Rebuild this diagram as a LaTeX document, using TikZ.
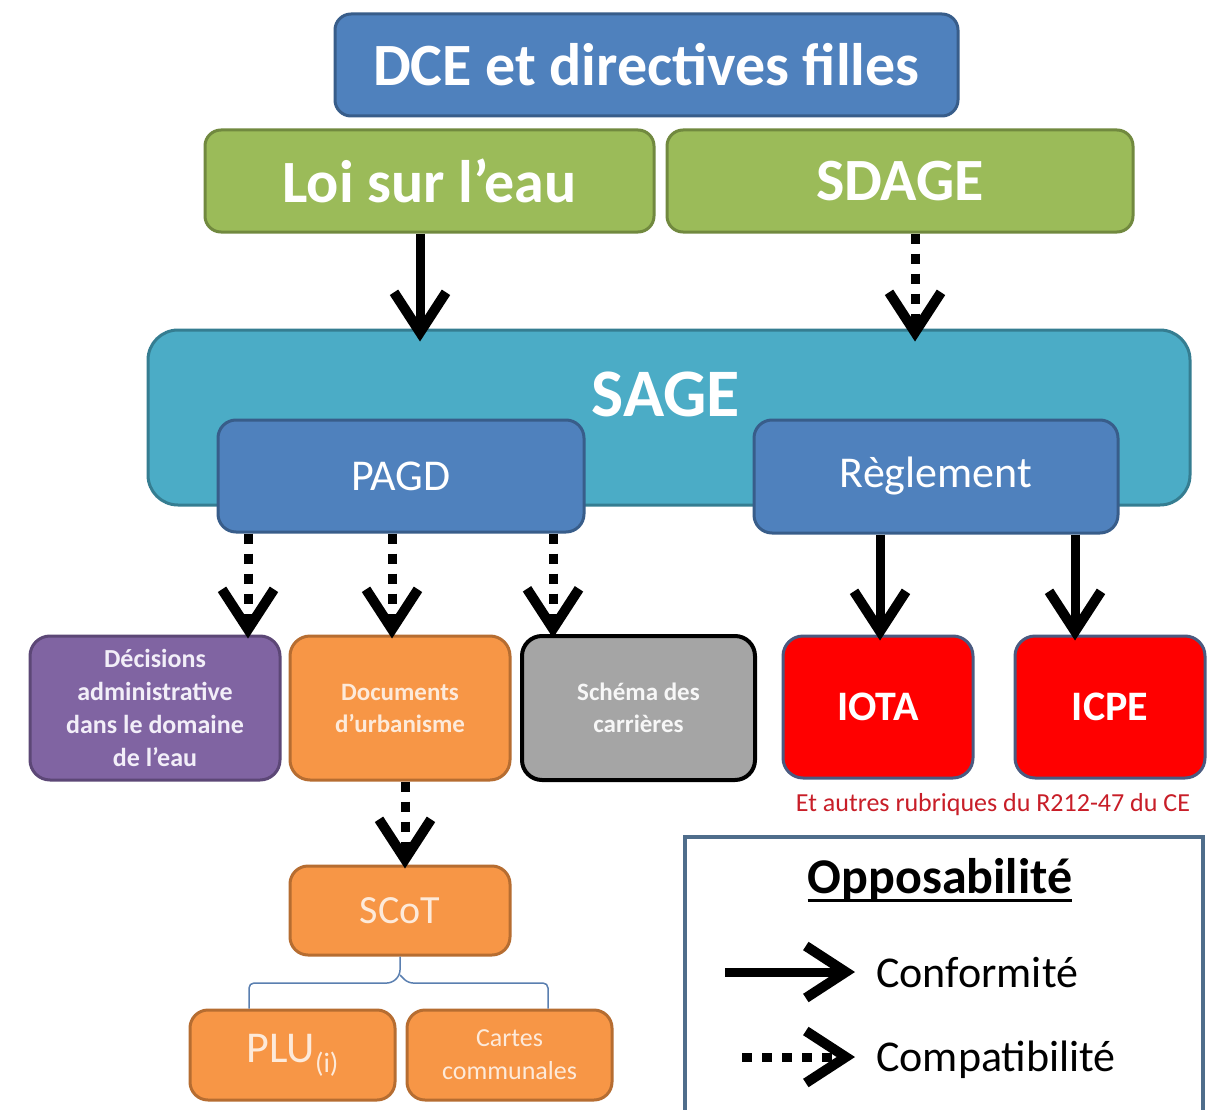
\documentclass[tikz,border=0pt]{standalone}
\usepackage{fontspec}
\setmainfont{Carlito}
\usetikzlibrary{arrows.meta,calc}
\definecolor{dceblue}{HTML}{4F81BD}
\definecolor{dceborder}{HTML}{385D8A}
\definecolor{lgreen}{HTML}{9BBB59}
\definecolor{lgreenb}{HTML}{71893F}
\definecolor{sageteal}{HTML}{4BACC6}
\definecolor{sageb}{HTML}{357D91}
\definecolor{purp}{HTML}{8064A2}
\definecolor{purpb}{HTML}{5C4776}
\definecolor{orng}{HTML}{F79646}
\definecolor{orngb}{HTML}{B66D31}
\definecolor{gry}{HTML}{A5A5A5}
\definecolor{redb}{HTML}{4A5A80}
\definecolor{notered}{RGB}{200,30,40}
\definecolor{paleorng}{HTML}{FDEADA}
\definecolor{palepurp}{HTML}{F2EEF8}
\definecolor{legb}{HTML}{4F6D8B}
\definecolor{brk}{HTML}{5A7FB0}
\newcommand{\fs}[1]{\fontsize{#1}{1.2\dimexpr #1pt\relax}\selectfont}
\newcommand{\myul}[1]{\setbox0=\hbox{#1}\leavevmode\rlap{\copy0}\raisebox{-9pt}{\rule{\wd0}{3pt}}}
\begin{document}
\begin{tikzpicture}[x=1pt,y=-1pt,
  box/.style={draw, line width=3pt, rounded corners=16pt, align=center, inner sep=0pt},
  conf/.style={line width=9pt, -{Straight Barb[length=40pt,width=52pt,line width=10pt]}},
  compat/.style={line width=9pt, dash pattern=on 10pt off 10pt, -{Straight Barb[length=40pt,width=52pt,line width=10pt]}},
  bracket/.style={line width=1.5pt, draw=brk, rounded corners=5pt}
]
\useasboundingbox (0,0) rectangle (1207,1110);
\fill[white] (0,0) rectangle (1207,1110);

% top boxes
\node[box, fill=dceblue, draw=dceborder, minimum width=623pt, minimum height=102pt,
  text=white, font=\bfseries\fs{60}] (dce) at (646.5,65) {DCE et directives filles};
\node[box, fill=lgreen, draw=lgreenb, minimum width=449pt, minimum height=102pt,
  text=white, font=\bfseries\fs{60}] (loi) at (429.5,181) {Loi sur l’eau};
\node[box, fill=lgreen, draw=lgreenb, minimum width=466pt, minimum height=102pt,
  text=white, font=\bfseries\fs{60}] (sdage) at (900,181) {SDAGE};

% SAGE
\node[box, fill=sageteal, draw=sageb, rounded corners=30pt, minimum width=1042pt, minimum height=175pt] (sage) at (669,417.5) {};
\node[text=white, font=\bfseries\fs{68}, inner sep=0pt] (sagetxt) at (666,394) {SAGE};

\node[box, fill=dceblue, draw=dceborder, rounded corners=18pt, minimum width=366pt, minimum height=112pt,
  text=white, font=\fs{44}] (pagd) at (401,476) {PAGD};
\node[box, fill=dceblue, draw=dceborder, rounded corners=18pt, minimum width=364pt, minimum height=113pt,
  text=white, font=\fs{44}] (regl) at (936,476.5) {Règlement};

% second level
\node[box, fill=purp, draw=purpb, rounded corners=20pt, minimum width=250pt, minimum height=144pt,
  text=palepurp, font=\bfseries\fontsize{26}{33}\selectfont] (dec) at (155,708)
  {Décisions\\administrative\\dans le domaine\\de l’eau};
\node[box, fill=orng, draw=orngb, rounded corners=20pt, minimum width=220pt, minimum height=144pt,
  text=paleorng, font=\bfseries\fontsize{25}{32}\selectfont] (doc) at (400,708)
  {Documents\\d’urbanisme};
\node[box, fill=gry, draw=black, line width=4pt, rounded corners=20pt, minimum width=233pt, minimum height=144pt,
  text=white!94!gray, font=\bfseries\fontsize{25}{32}\selectfont] (sch) at (638.5,708)
  {Schéma des\\carrières};
\node[box, fill=red, draw=redb, rounded corners=20pt, minimum width=190pt, minimum height=142pt,
  text=white, font=\bfseries\fs{42}] (iota) at (878,707) {IOTA};
\node[box, fill=red, draw=redb, rounded corners=20pt, minimum width=190pt, minimum height=142pt,
  text=white, font=\bfseries\fs{42}] (icpe) at (1110,707) {ICPE};
\node[text=notered, font=\fs{26}, inner sep=0pt] (note) at (993,805) {Et autres rubriques du R212-47 du CE};

% SCoT level
\node[box, fill=orng, draw=orngb, rounded corners=18pt, minimum width=220pt, minimum height=89pt,
  text=paleorng, font=\fs{40}] (scot) at (400,910.5) {SCoT};
\node[box, fill=orng, draw=orngb, rounded corners=18pt, minimum width=205pt, minimum height=90pt,
  text=paleorng, font=\fs{44}] (plu) at (292.5,1055) {PLU\raisebox{-10pt}{\fs{28}(i)}};
\node[box, fill=orng, draw=orngb, rounded corners=18pt, minimum width=205pt, minimum height=90pt,
  text=paleorng, font=\fontsize{26}{33}\selectfont] (cartes) at (509.5,1055) {Cartes\\communales};

% x positions of connectors
\coordinate (xa) at (420,0);
\coordinate (xb) at (915,0);
\coordinate (xc) at (248,0);
\coordinate (xd) at (392,0);
\coordinate (xe) at (553,0);
\coordinate (xf) at (880,0);
\coordinate (xg) at (1075,0);
\coordinate (xh) at (405,0);
\coordinate (xi) at (249,0);
\coordinate (xj) at (548,0);

\draw[conf] (loi.south -| xa) -- ($(sage.north -| xa)+(0,13)$);
\draw[compat] (sdage.south -| xb) -- ($(sage.north -| xb)+(0,13)$);
\draw[compat] (pagd.south -| xc) -- ($(dec.north -| xc)+(0,4)$);
\draw[compat] (pagd.south -| xd) -- ($(doc.north -| xd)+(0,4)$);
\draw[compat] (pagd.south -| xe) -- ($(sch.north -| xe)+(0,4)$);
\draw[conf] (regl.south -| xf) -- ($(iota.north -| xf)+(0,6)$);
\draw[conf] (regl.south -| xg) -- ($(icpe.north -| xg)+(0,6)$);
\draw[compat] (doc.south -| xh) -- ($(scot.north -| xh)+(0,4)$);

% bracket
\draw[bracket] (plu.north -| xi) |- (392,983) -- (400,975) -- (scot.south);
\draw[bracket] (cartes.north -| xj) |- (408,983) -- (400,975);

% legend
\draw[line width=3.5pt, draw=legb, fill=white] (685,837) rectangle (1203,1130);
\node[font=\bfseries\fs{50}, inner sep=0pt, anchor=base] (legtitle) at (940,893) {\myul{Opposabilité}};
\coordinate (lgA) at (725,972);
\coordinate (lgB) at (855,972);
\coordinate (lgC) at (742,1057);
\coordinate (lgD) at (855,1057);
\draw[conf] (lgA) -- (lgB);
\draw[compat] (lgC) -- (lgD);
\node[font=\fs{44}, inner sep=0pt, anchor=base west] (lconf) at (876,987) {Conformité};
\node[font=\fs{44}, inner sep=0pt, anchor=base west] (lcomp) at (876,1071) {Compatibilité};
\end{tikzpicture}
\end{document}
